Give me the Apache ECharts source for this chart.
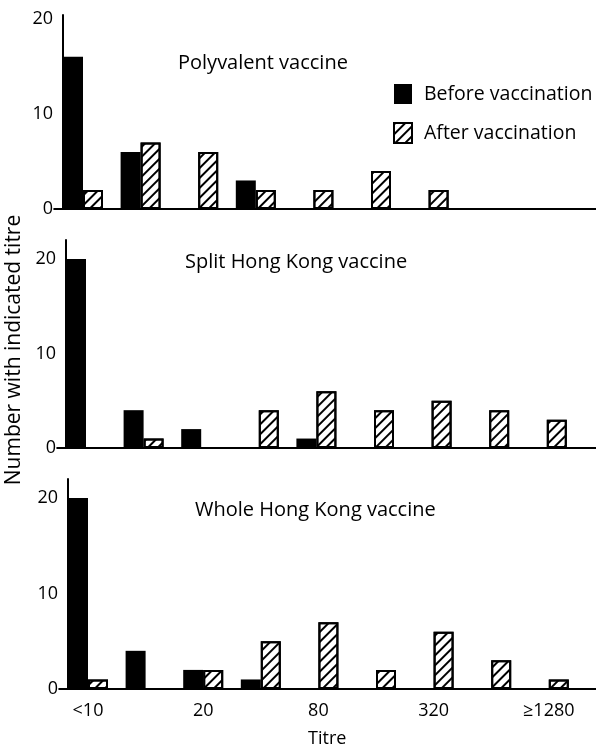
<!DOCTYPE html>
<html>
<head>
<meta charset="utf-8">
<script src="https://cdn.jsdelivr.net/npm/echarts@6/dist/echarts.min.js"></script>
<style>
html, body { margin: 0; padding: 0; background: #fff; }
#chart { width: 596px; height: 748px; }
</style>
</head>
<body>
<div id="chart"></div>
<script>
const titres = ['<10', '10', '20', '40', '80', '160', '320', '640', '≥1280'];
const panelTitles = ['Polyvalent vaccine', 'Split Hong Kong vaccine', 'Whole Hong Kong vaccine'];
const seriesNames = ['Before vaccination', 'After vaccination'];

const polyBefore = [16, 6, 0, 3, 0, 0, 0, 0, 0];
const polyAfter = [2, 7, 6, 2, 2, 4, 2, 0, 0];
const splitBefore = [20, 4, 2, 0, 1, 0, 0, 0, 0];
const splitAfter = [0, 1, 0, 4, 6, 4, 5, 4, 3];
const wholeBefore = [20, 4, 2, 1, 0, 0, 0, 0, 0];
const wholeAfter = [1, 0, 2, 5, 7, 2, 6, 3, 1];

const font = '"Open Sans", "DejaVu Sans", sans-serif';
const fs = 18;
const textFs = 20;

// panel layout: where the y axis sits, grid top/height and y max
const panels = [
  { axisX: 63, top: 15, height: 194, max: 20.4, before: polyBefore, after: polyAfter },
  { axisX: 66, top: 240, height: 208, max: 22, before: splitBefore, after: splitAfter },
  { axisX: 68, top: 479, height: 210, max: 22, before: wholeBefore, after: wholeAfter }
];
const band = 57.6;
const barW = 20;
const pad = (band - 2 * barW) / 2;

const hatch = {
  symbol: 'rect',
  symbolSize: 1,
  color: '#000',
  dashArrayX: [1, 0],
  dashArrayY: [2, 5],
  rotation: -Math.PI / 4
};

const chart = echarts.init(document.getElementById('chart'));

const grids = [], xAxes = [], yAxes = [], series = [];
panels.forEach((p, i) => {
  grids.push({
    left: p.axisX - pad,
    top: p.top,
    width: band * 10,
    height: p.height,
    outerBoundsMode: 'none'
  });
  xAxes.push({
    type: 'category',
    gridIndex: i,
    data: titres,
    max: 9,
    axisLine: { lineStyle: { color: '#000', width: 2 } },
    axisTick: { show: false },
    axisLabel: {
      show: i === 2,
      interval: 1,
      margin: 13,
      color: '#000',
      fontFamily: font,
      fontSize: fs
    },
    name: i === 2 ? 'Titre' : '',
    nameLocation: 'middle',
    nameGap: 41,
    nameTextStyle: { color: '#000', fontFamily: font, fontSize: fs, padding: [0, 40, 0, 0] }
  });
  yAxes.push({
    type: 'value',
    gridIndex: i,
    min: 0,
    max: p.max,
    interval: 10,
    offset: -pad,
    splitLine: { show: false },
    axisTick: { show: false },
    axisLine: { show: true, lineStyle: { color: '#000', width: 2 } },
    axisLabel: {
      margin: 10,
      color: '#000',
      fontFamily: font,
      fontSize: fs,
      formatter: v => (v % 10 === 0 ? v : '')
    },
    name: i === 1 ? 'Number with indicated titre' : '',
    nameLocation: 'middle',
    nameGap: 41,
    nameTextStyle: { color: '#000', fontFamily: font, fontSize: 21, padding: [0, 12, 0, 0] }
  });
  series.push({
    name: seriesNames[0],
    type: 'bar',
    xAxisIndex: i,
    yAxisIndex: i,
    barWidth: barW,
    barGap: '0%',
    itemStyle: { color: '#000', borderRadius: 0 },
    data: p.before
  });
  series.push({
    name: seriesNames[1],
    type: 'bar',
    xAxisIndex: i,
    yAxisIndex: i,
    barWidth: barW,
    barGap: '0%',
    itemStyle: { color: '#fff', borderColor: '#000', borderWidth: 2, borderRadius: 0, decal: hatch },
    data: p.after
  });
});

const option = {
  animation: false,
  backgroundColor: '#fff',
  title: [
    { text: panelTitles[0], left: 178, top: 53 },
    { text: panelTitles[1], left: 185, top: 252 },
    { text: panelTitles[2], left: 195, top: 500 }
  ].map(t => Object.assign(t, {
    padding: 0,
    textStyle: { color: '#000', fontFamily: font, fontSize: textFs, fontWeight: 'normal' }
  })),
  legend: {
    data: seriesNames,
    orient: 'vertical',
    icon: 'rect',
    left: 393,
    top: 84,
    padding: 0,
    itemWidth: 18,
    itemHeight: 20,
    itemGap: 18,
    selectedMode: false,
    textStyle: { color: '#000', fontFamily: font, fontSize: 19.5, padding: [10, 0, 0, 7] }
  },
  grid: grids,
  xAxis: xAxes,
  yAxis: yAxes,
  series: series
};

chart.setOption(option);
</script>
</body>
</html>
